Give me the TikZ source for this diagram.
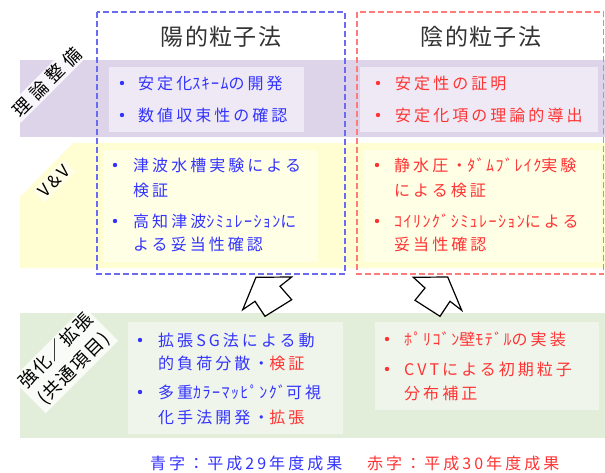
\documentclass[tikz,border=0pt]{standalone}
\usepackage{fontspec}
\newfontfamily\jpsp{Noto Sans CJK JP}[LetterSpace=19]
\newfontfamily\jphw{Noto Sans CJK JP}[LetterSpace=9]
\newfontfamily\jptitle{Noto Sans CJK JP}[LetterSpace=6]
\newfontfamily\jplab{Noto Sans CJK JP}[LetterSpace=31]
\newfontfamily\jplabb{Noto Sans CJK JP}[LetterSpace=9]
\newcommand{\hw}[1]{{\jphw #1}}
\definecolor{bandP}{HTML}{DDD4E9}
\definecolor{boxP}{HTML}{EEE9F4}
\definecolor{bandY}{HTML}{FFFDD2}
\definecolor{boxY}{HTML}{FFFFE6}
\definecolor{bandG}{HTML}{E2EDDA}
\definecolor{boxG}{HTML}{EFF5EB}
\definecolor{txtB}{HTML}{3333FF}
\definecolor{txtR}{HTML}{FF3333}
\definecolor{dashB}{HTML}{6B6BF0}
\definecolor{dashR}{HTML}{FF7B7B}
\definecolor{ttl}{HTML}{333333}
\tikzset{
  tx/.style={anchor=west, inner sep=0pt, font=\jpsp\fontsize{16}{19}\selectfont},
  bt/.style={tx, text=txtB},
  rt/.style={tx, text=txtR},
  ttlnode/.style={inner sep=0pt, text=ttl, font=\jptitle\fontsize{23}{26}\selectfont},
  lab/.style={rotate=45, fill=white, fill opacity=0.8, text opacity=1, inner xsep=3pt, inner ysep=2pt, text=black, font=\jplab\fontsize{18}{22}\selectfont},
  blk/.style={fill=white, draw=black, line width=1.2pt, line join=miter},
  dashbox/.style={line width=1.5pt, dash pattern=on 6pt off 3pt}
}
\begin{document}
\begin{tikzpicture}[x=1pt,y=1pt]
\useasboundingbox (0,0) rectangle (605,-473);
\fill[white] (0,0) rectangle (605,-473);
% bands
\fill[bandP] (20,-60) rectangle (605,-137);
\fill[bandY] (20,-197) -- (73,-143) -- (605,-143) -- (605,-268) -- (20,-268) -- cycle;
\fill[bandG] (20,-313) rectangle (605,-438);
% inner boxes
\fill[boxP] (109,-67) rectangle (304,-132);
\fill[boxP] (360,-67) rectangle (598,-132);
\fill[boxY] (103,-150) rectangle (318,-262);
\fill[boxY] (363,-150) rectangle (601,-262);
\fill[boxG] (128,-322) rectangle (343,-434);
\fill[boxG] (375,-322) rectangle (599,-410);
% dashed boxes
\draw[dashbox, dashB] (97,-12) rectangle (345,-274);
\draw[dashbox, dashR] (357,-12) rectangle (603.5,-274);
% titles
\node[ttlnode] (t1) at (221,-37) {陽的粒子法};
\node[ttlnode] (t2) at (481,-37) {陰的粒子法};
% side labels
\node[lab] (l1) at (47,-82) {理論整備};
\node[lab, fill opacity=0.5, font=\jpsp\fontsize{17}{20}\selectfont] (l2) at (54,-181) {V\&V};
\node[lab, align=center, font=\jplabb\fontsize{18}{25}\selectfont] (l3) at (65,-360) {強化／拡張\\(共通項目)};
% purple
\fill[txtB] (122,-83) circle (2.2);
\fill[txtB] (122,-115) circle (2.2);
\node[bt] (p1) at (138,-83) {安定化\hw{ｽｷｰﾑ}の開発};
\node[bt] (p2) at (138,-115) {数値収束性の確認};
\fill[txtR] (378,-83) circle (2.2);
\fill[txtR] (378,-115) circle (2.2);
\node[rt] (p3) at (395,-83) {安定性の証明};
\node[rt] (p4) at (395,-115) {安定化項の理論的導出};
% yellow
\fill[txtB] (115,-165) circle (2.2);
\fill[txtB] (115,-221) circle (2.2);
\node[bt] (y1) at (133,-165) {津波水槽実験による};
\node[bt] (y2) at (133,-190) {検証};
\node[bt] (y3) at (133,-221) {高知津波\hw{ｼﾐｭﾚｰｼｮﾝ}に};
\node[bt] (y4) at (133,-244) {よる妥当性確認};
\fill[txtR] (377,-165) circle (2.2);
\fill[txtR] (377,-221) circle (2.2);
\node[rt] (y5) at (394,-165) {静水圧・\hw{ﾀﾞﾑﾌﾞﾚｲｸ}実験};
\node[rt] (y6) at (394,-190) {による検証};
\node[rt] (y7) at (394,-221) {\hw{ｺｲﾘﾝｸﾞｼﾐｭﾚｰｼｮﾝ}による};
\node[rt] (y8) at (394,-244) {妥当性確認};
% green
\fill[txtB] (140,-340) circle (2.2);
\fill[txtB] (140,-392) circle (2.2);
\node[bt] (g1) at (158,-340) {拡張SG法による動};
\node[bt] (g2) at (158,-363) {的負荷分散・\textcolor{txtR}{検証}};
\node[bt] (g3) at (158,-392) {多重\hw{ｶﾗｰﾏｯﾋﾟﾝｸﾞ}可視};
\node[bt] (g4) at (158,-417) {化手法開発・\textcolor{txtR}{拡張}};
\fill[txtR] (387,-339) circle (2.2);
\fill[txtR] (387,-369) circle (2.2);
\node[rt] (g5) at (404,-339) {\hw{ﾎﾟﾘｺﾞﾝ}壁\hw{ﾓﾃﾞﾙ}の実装};
\node[rt] (g6) at (404,-369) {CVTによる初期粒子};
\node[rt] (g7) at (404,-393) {分布補正};
% block arrows
\draw[blk] (256,-277.3) -- (291.7,-277) -- (280,-286.3) -- (291.7,-299.7) -- (265,-316.3) -- (255,-301.3) -- (242.7,-309.7) -- cycle;
\draw[blk] (447.7,-277) -- (461.7,-310.3) -- (450,-301.3) -- (440,-316.3) -- (415,-300.3) -- (425,-288) -- (413.3,-277.3) -- cycle;
% legend
\node[bt] (lg1) at (150,-463) {青字：平成29年度成果};
\node[rt] (lg2) at (367,-463) {赤字：平成30年度成果};
\end{tikzpicture}
\end{document}
